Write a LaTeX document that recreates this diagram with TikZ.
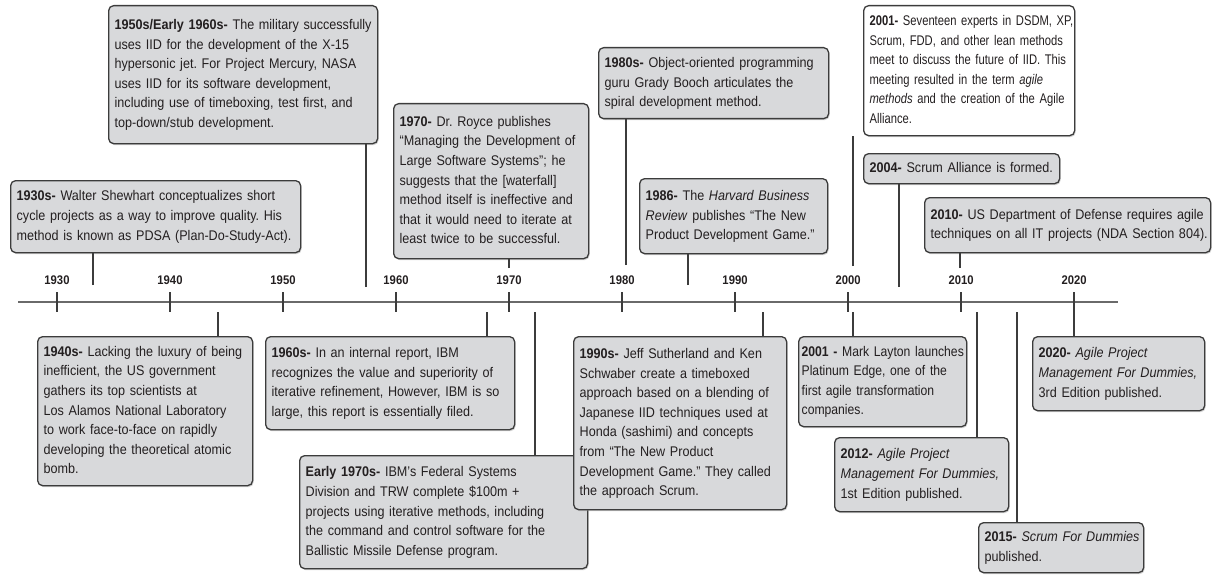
\documentclass[tikz,border=0pt]{standalone}
\usepackage{fontspec}
\setmainfont[FakeStretch=0.9]{Liberation Sans}
\newfontfamily\tightfont[FakeStretch=0.8]{Liberation Sans}
\newfontfamily\snugfont[FakeStretch=0.87]{Liberation Sans}
\usepackage{xcolor}
\usetikzlibrary{calc,positioning,shadows}
\definecolor{Ink}{HTML}{231F20}
\definecolor{BoxFill}{HTML}{D8D9DB}
\definecolor{BoxLine}{HTML}{3C3C3C}
\definecolor{AxisGray}{HTML}{6A6A6A}
\newcommand{\evlines}[1]{\begin{tabular}{@{}l@{}}#1\end{tabular}}
\frenchspacing
\tikzset{
  eventbox/.style={draw=BoxLine,fill=BoxFill,line width=1.3pt,rounded corners=5pt,anchor=north west,
    inner xsep=6pt,inner ysep=3pt,text=Ink,font=\fontsize{14}{19.6}\selectfont,
    drop shadow={shadow xshift=1pt,shadow yshift=-1.5pt,fill=black!35}},
  whitebox/.style={eventbox,fill=white},
  yearlabel/.style={font=\bfseries\fontsize{12.5}{14}\selectfont,text=Ink,inner sep=0pt},
  tickmark/.style={line width=1.2pt,BoxLine},
  link/.style={line width=1.3pt,BoxLine},
  timeaxis/.style={line width=2.6pt,AxisGray}
}

\begin{document}
\begin{tikzpicture}[x=1pt,y=-1pt]
  \useasboundingbox (0,0) rectangle (1214,575);

  % time axis with decades
  \coordinate (axL) at (18,302);
  \coordinate (axR) at (1118,302);
  \draw[timeaxis] (axL) -- (axR);
  \foreach \yr [count=\i from 0] in {1930,1940,...,2020} {
    \coordinate (t\yr) at (57+113*\i,302);
    \draw[tickmark] ($(t\yr)+(0,-10)$) -- ($(t\yr)+(0,10)$);
    \node[yearlabel] (y\yr) at (57+113*\i,280) {\yr};
  }

  % events above the axis
  \node[eventbox,text width=278pt,minimum height=72pt] (e1930s) at (10,180)
    {\evlines{\textbf{1930s-} Walter Shewhart conceptualizes short\\cycle projects as a way to improve quality. His\\method is known as PDSA (Plan-Do-Study-Act).}};
  \node[eventbox,text width=257pt,minimum height=138pt] (e1950s) at (108,5)
    {\evlines{\textbf{1950s/Early 1960s-} The military successfully\\uses IID for the development of the X-15\\hypersonic jet. For Project Mercury, NASA\\uses IID for its software development,\\including use of timeboxing, test first, and\\top-down/stub development.}};
  \node[eventbox,text width=183pt,minimum height=155pt] (e1970) at (393,103)
    {\evlines{\textbf{1970-} Dr. Royce publishes\\“Managing the Development of\\Large Software Systems”; he\\suggests that the [waterfall]\\method itself is ineffective and\\that it would need to iterate at\\least twice to be successful.}};
  \node[eventbox,text width=218pt,minimum height=71pt] (e1980s) at (598,47)
    {\evlines{\textbf{1980s-} Object-oriented programming\\guru Grady Booch articulates the\\spiral development method.}};
  \node[eventbox,text width=176pt,minimum height=75pt] (e1986) at (639,178)
    {\evlines{\textbf{1986-} The \textit{Harvard Business}\\\textit{Review} publishes “The New\\Product Development Game.”}};
  \node[whitebox,text width=199pt,minimum height=130pt,font=\tightfont\fontsize{14}{19.6}\selectfont] (e2001a) at (863,5)
    {\evlines{\textbf{2001-} Seventeen experts in DSDM, XP,\\Scrum, FDD, and other lean methods\\meet to discuss the future of IID. This\\meeting resulted in the term \textit{agile}\\\textit{methods} and the creation of the Agile\\Alliance.}};
  \node[eventbox,text width=184pt,minimum height=30pt] (e2004) at (863,153)
    {\evlines{\textbf{2004-} Scrum Alliance is formed.}};
  \node[eventbox,text width=274pt,minimum height=55pt] (e2010) at (924,197)
    {\evlines{\textbf{2010-} US Department of Defense requires agile\\techniques on all IT projects (NDA Section 804).}};

  % events below the axis
  \node[eventbox,text width=203pt,minimum height=149pt] (e1940s) at (37,336)
    {\evlines{\textbf{1940s-} Lacking the luxury of being\\inefficient, the US government\\gathers its top scientists at\\Los Alamos National Laboratory\\to work face-to-face on rapidly\\developing the theoretical atomic\\bomb.}};
  \node[eventbox,text width=237pt,minimum height=93pt] (e1960s) at (265,336)
    {\evlines{\textbf{1960s-} In an internal report, IBM\\recognizes the value and superiority of\\iterative refinement, However, IBM is so\\large, this report is essentially filed.}};
  \node[eventbox,text width=276pt,minimum height=113pt] (e1970s) at (299,455)
    {\evlines{\textbf{Early 1970s-} IBM’s Federal Systems\\Division and TRW complete \$100m +\\projects using iterative methods, including\\the command and control software for the\\Ballistic Missile Defense program.}};
  \node[eventbox,text width=201pt,minimum height=173pt] (e1990s) at (573,336)
    {\evlines{\textbf{1990s-} Jeff Sutherland and Ken\\Schwaber create a timeboxed\\approach based on a blending of\\Japanese IID techniques used at\\Honda (sashimi) and concepts\\from “The New Product\\Development Game.” They called\\the approach Scrum.}};
  \node[eventbox,text width=162pt,minimum height=90pt,inner xsep=3pt,font=\snugfont\fontsize{14}{19.6}\selectfont] (e2001b) at (798,336)
    {\evlines{\textbf{2001 -} Mark Layton launches\\Platinum Edge, one of the\\first agile transformation\\companies.}};
  \node[eventbox,text width=162pt,minimum height=74pt] (e2012) at (834,437)
    {\evlines{\textbf{2012-} \textit{Agile Project}\\\textit{Management For Dummies,}\\1st Edition published.}};
  \node[eventbox,text width=153pt,minimum height=50pt] (e2015) at (978,522)
    {\evlines{\textbf{2015-} \textit{Scrum For Dummies}\\published.}};
  \node[eventbox,text width=160pt,minimum height=74pt] (e2020) at (1032,336)
    {\evlines{\textbf{2020-} \textit{Agile Project}\\\textit{Management For Dummies,}\\3rd Edition published.}};

  % connectors
  \coordinate (c1930s) at (93,285);
  \coordinate (c1950s) at (366,287);
  \coordinate (c1970) at (509,268);
  \coordinate (c1980s) at (626,265);
  \coordinate (c1986) at (688,285);
  \coordinate (c2001a) at (853,266);
  \coordinate (c2004) at (899,287);
  \coordinate (c2010) at (960,268);
  \draw[link] (c1930s) -- (c1930s |- e1930s.south);
  \draw[link] (c1950s) -- (c1950s |- e1950s.south);
  \draw[link] (c1970) -- (c1970 |- e1970.south);
  \draw[link] (c1980s) -- (c1980s |- e1980s.south);
  \draw[link] (c1986) -- (c1986 |- e1986.south);
  \draw[link] (c2001a) -- (c2001a |- e2001a.south);
  \draw[link] (c2004) -- (c2004 |- e2004.south);
  \draw[link] (c2010) -- (c2010 |- e2010.south);

  \coordinate (c1940s) at (218,312);
  \coordinate (c1960s) at (487,312);
  \coordinate (c1970s) at (535,312);
  \coordinate (c1990s) at (763,312);
  \coordinate (c2001b) at (853,312);
  \coordinate (c2012) at (977,312);
  \coordinate (c2015) at (1017,312);
  \coordinate (c2020) at (1074,302);
  \draw[link] (c1940s) -- (c1940s |- e1940s.north);
  \draw[link] (c1960s) -- (c1960s |- e1960s.north);
  \draw[link] (c1970s) -- (c1970s |- e1970s.north);
  \draw[link] (c1990s) -- (c1990s |- e1990s.north);
  \draw[link] (c2001b) -- (c2001b |- e2001b.north);
  \draw[link] (c2012) -- (c2012 |- e2012.north);
  \draw[link] (c2015) -- (c2015 |- e2015.north);
  \draw[link] (c2020) -- (c2020 |- e2020.north);
\end{tikzpicture}
\end{document}
